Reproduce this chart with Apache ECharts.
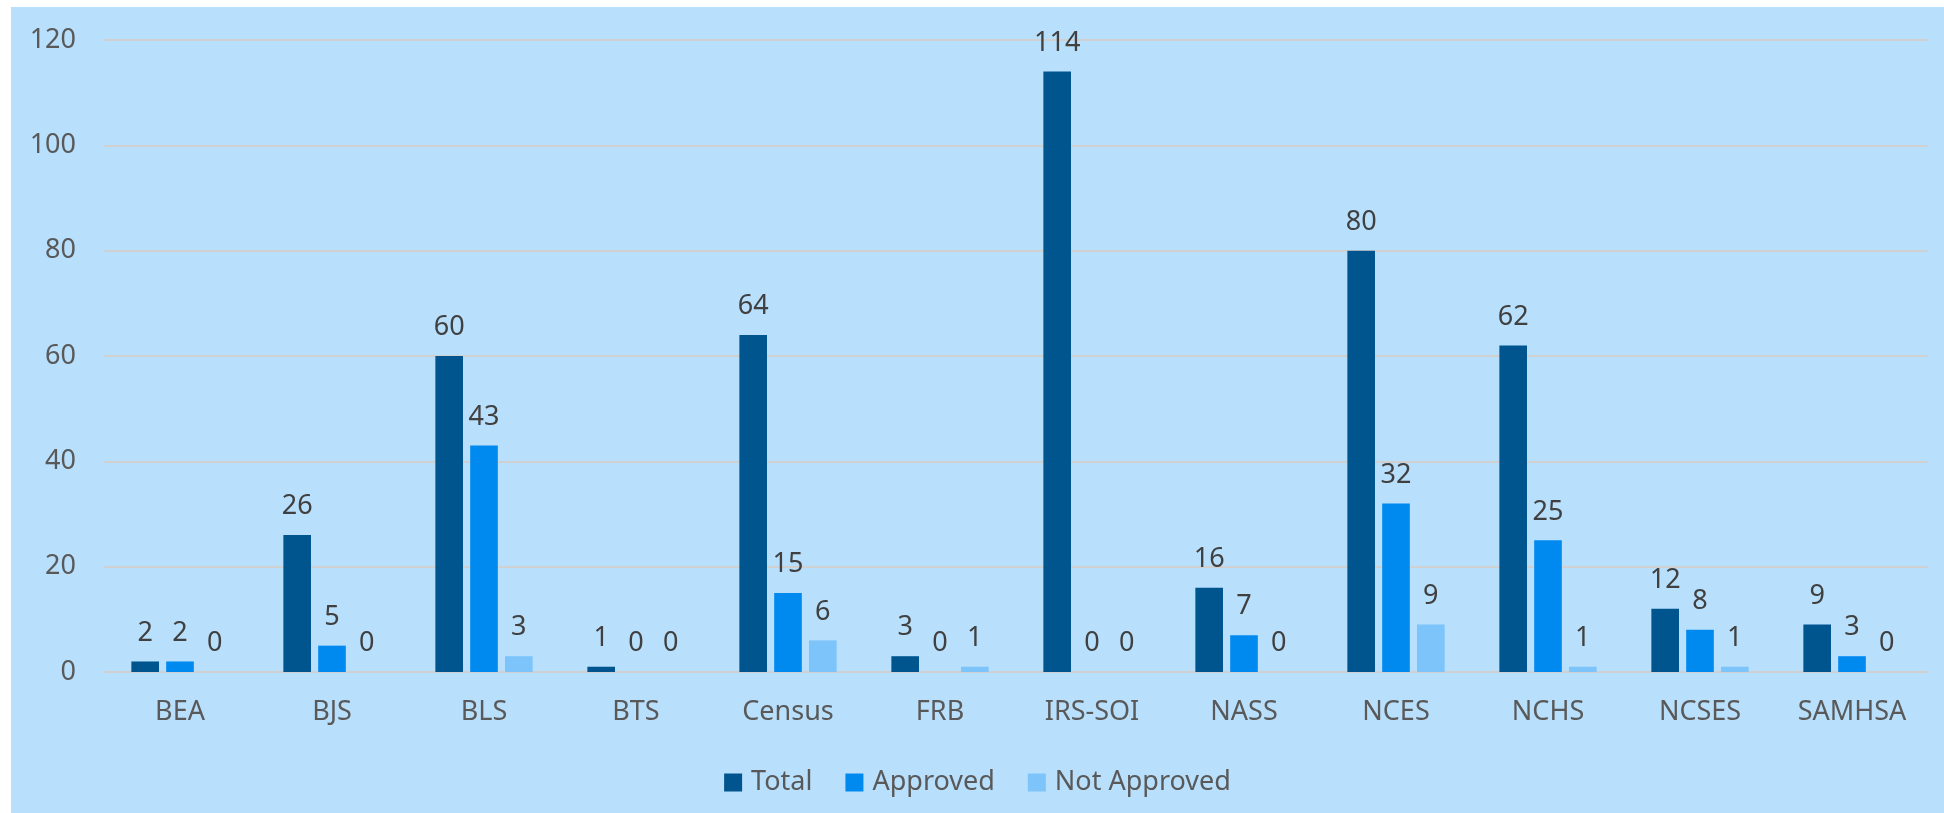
<!DOCTYPE html>
<html lang="en">
<head>
    <meta charset="UTF-8">
    <title>Requests by agency</title>
    <style>
        html,body{margin:0;padding:0;width:1944px;height:813px;background:#fff;overflow:hidden;}
        #barChart{position:absolute;left:11px;top:7px;width:1933px;height:806px;}
    </style>
</head>
<body>
<div id="barChart"></div>
<script src="https://cdn.jsdelivr.net/npm/echarts@6/dist/echarts.min.js"></script>
<script>
    // chart data
    let agencies = ['BEA','BJS','BLS','BTS','Census','FRB','IRS-SOI','NASS','NCES','NCHS','NCSES','SAMHSA'];
    let total = [2,26,60,1,64,3,114,16,80,62,12,9];
    let approved = [2,5,43,0,15,0,0,7,32,25,8,3];
    let notApproved = [0,0,3,0,6,1,0,0,9,1,1,0];

    let font = 'Noto Sans';

    function seriesOf(name, data, color){
        return {
            name: name,
            type: 'bar',
            data: data,
            barGap: '26%',
            barCategoryGap: '36%',
            itemStyle: {color: color},
            label: {
                show: true,
                position: 'top',
                distance: 15,
                color: '#404040',
                fontSize: 27,
                fontFamily: font
            }
        };
    }

    let myChart = echarts.init(document.getElementById('barChart'));
    let option = {
        backgroundColor: '#b8dffc',
        animation: false,
        legend: {
            top: 757,
            left: 'center',
            itemWidth: 18,
            itemHeight: 18,
            itemGap: 33,
            icon: 'rect',
            textStyle: {color: '#595959', fontSize: 27, fontFamily: font, padding: [0, 0, 0, 4]}
        },
        grid: {
            left: 93,
            right: 16,
            top: 33,
            bottom: 141
        },
        xAxis: {
            type: 'category',
            data: agencies,
            axisTick: {show: false},
            axisLine: {lineStyle: {color: '#d0d0d0', width: 2}},
            axisLabel: {color: '#595959', fontSize: 27, fontFamily: font, margin: 27}
        },
        yAxis: {
            type: 'value',
            min: 0,
            max: 120,
            interval: 20,
            axisLine: {show: false},
            axisTick: {show: false},
            axisLabel: {color: '#595959', fontSize: 27, fontFamily: font, margin: 28},
            splitLine: {lineStyle: {color: '#d0d0d0', width: 2}}
        },
        series: [
            seriesOf('Total', total, '#00558f'),
            seriesOf('Approved', approved, '#008af0'),
            seriesOf('Not Approved', notApproved, '#7cc4fa')
        ]
    };
    myChart.setOption(option);
</script>
</body>
</html>
